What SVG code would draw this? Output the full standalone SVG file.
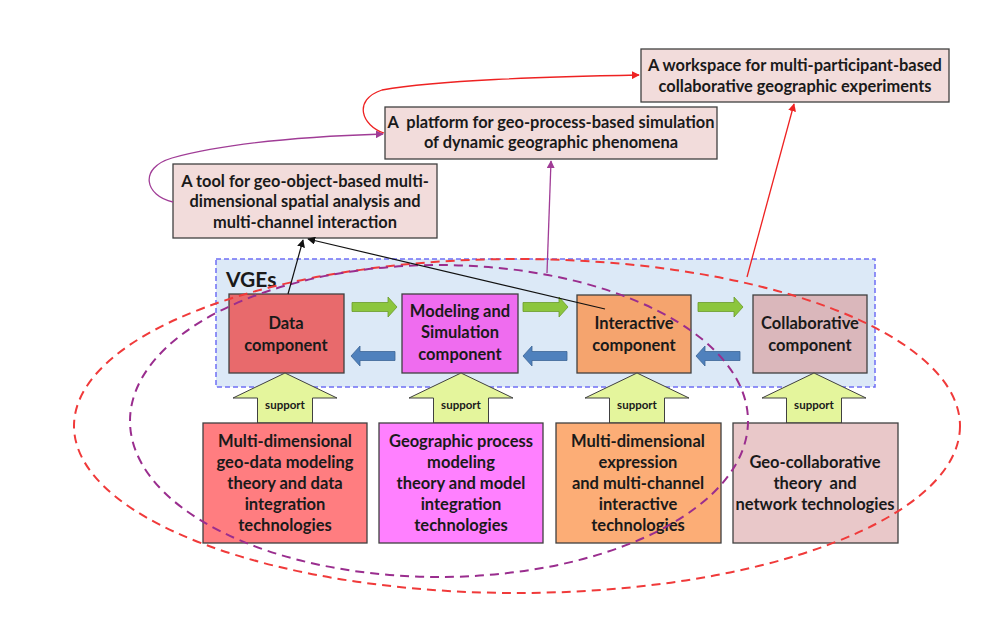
<svg xmlns="http://www.w3.org/2000/svg" width="994" height="620" viewBox="0 0 994 620">
<style>
text{font-family:Lato,"Liberation Sans",sans-serif;font-weight:bold;fill:#1a1a1a;text-anchor:middle}
.t{font-size:16.4px}
.c{font-size:16.5px}
.s{font-size:11.5px}
.box{stroke:#404040;stroke-width:1.3}
.top{fill:#f2dcdb}
.sup{fill:#e4f59c;stroke:#404040;stroke-width:1}
.gr{fill:#8cc63e;stroke:#6a9a2a;stroke-width:0.8}
.bl{fill:#4f81bd;stroke:#3c6596;stroke-width:0.8}
.el{fill:none;stroke-width:2;stroke-dasharray:9 6}
</style>
<defs>
<marker id="ab" viewBox="0 0 10 10" refX="9" refY="5" markerWidth="8" markerHeight="8" orient="auto" markerUnits="userSpaceOnUse"><path d="M0,0 L10,5 L0,10 Z" fill="#111"/></marker>
<marker id="ap" viewBox="0 0 10 10" refX="9" refY="5" markerWidth="8" markerHeight="8" orient="auto" markerUnits="userSpaceOnUse"><path d="M0,0 L10,5 L0,10 Z" fill="#a03c96"/></marker>
<marker id="ar" viewBox="0 0 10 10" refX="9" refY="5" markerWidth="8" markerHeight="8" orient="auto" markerUnits="userSpaceOnUse"><path d="M0,0 L10,5 L0,10 Z" fill="#ee2222"/></marker>
<path id="garr" d="M0,-4.5 H36 V-10 L45,0 L36,10 V4.5 H0 Z"/>
<path id="barr" d="M44,-4.5 H9 V-10 L0,0 L9,10 V4.5 H44 Z"/>
<path id="sarr" d="M0,0 L52,25 H27.5 V50 H-27.5 V25 H-52 Z"/>
</defs>

<g id="vges">
<rect x="216" y="259" width="659" height="128" fill="#dce9f7" stroke="#6f6ff5" stroke-width="1.5" stroke-dasharray="5 3"/>
<text x="226" y="287" style="font-size:21px;text-anchor:start">VGEs</text>
</g>

<g id="top3">
<rect class="box top" x="641" y="49" width="308" height="53"/>
<text class="t" x="795" y="71">A workspace for multi-participant-based</text>
<text class="t" x="795" y="92">collaborative geographic experiments</text>
</g>
<g id="top2">
<rect class="box top" x="385" y="107" width="332" height="52"/>
<text class="t" x="551" y="128" xml:space="preserve">A  platform for geo-process-based simulation</text>
<text class="t" x="551" y="148">of dynamic geographic phenomena</text>
</g>
<g id="top1">
<rect class="box top" x="173" y="164" width="264" height="74"/>
<text class="t" x="305" y="187">A tool for geo-object-based multi-</text>
<text class="t" x="305" y="207">dimensional spatial analysis and</text>
<text class="t" x="305" y="228">multi-channel interaction</text>
</g>

<g id="data">
<rect class="box" x="229" y="294" width="115" height="79" fill="#e86a6c"/>
<text class="c" x="286" y="329">Data</text>
<text class="c" x="286" y="351">component</text>
</g>
<g id="modeling">
<rect class="box" x="402" y="294" width="116" height="79" fill="#ef6cef"/>
<text class="c" x="460" y="317">Modeling and</text>
<text class="c" x="460" y="338">Simulation</text>
<text class="c" x="460" y="360">component</text>
</g>
<g id="interactive">
<rect class="box" x="577" y="295" width="114" height="78" fill="#f5a46e"/>
<text class="c" x="634" y="329">Interactive</text>
<text class="c" x="634" y="351">component</text>
</g>
<g id="collaborative">
<rect class="box" x="753" y="295" width="114" height="78" fill="#dab7bb"/>
<text class="c" x="810" y="329">Collaborative</text>
<text class="c" x="810" y="351">component</text>
</g>

<g id="flow-arrows">
<use href="#garr" class="gr" x="352" y="307"/>
<use href="#garr" class="gr" x="523" y="307"/>
<use href="#garr" class="gr" x="698" y="307"/>
<use href="#barr" class="bl" x="351" y="356"/>
<use href="#barr" class="bl" x="523" y="356"/>
<use href="#barr" class="bl" x="696" y="356"/>
</g>

<g id="supports">
<use href="#sarr" class="sup" x="285" y="373"/>
<use href="#sarr" class="sup" x="461" y="373"/>
<use href="#sarr" class="sup" x="637" y="373"/>
<use href="#sarr" class="sup" x="814" y="373"/>
<text class="s" x="285" y="409">support</text>
<text class="s" x="461" y="409">support</text>
<text class="s" x="637" y="409">support</text>
<text class="s" x="814" y="409">support</text>
</g>

<g id="base-a">
<rect class="box" x="203" y="423" width="164" height="120" fill="#ff7d80"/>
<text class="c" x="285" y="447">Multi-dimensional</text>
<text class="c" x="285" y="468">geo-data modeling</text>
<text class="c" x="285" y="489">theory and data</text>
<text class="c" x="285" y="510">integration</text>
<text class="c" x="285" y="531">technologies</text>
</g>
<g id="base-b">
<rect class="box" x="379" y="423" width="164" height="120" fill="#ff80ff"/>
<text class="c" x="461" y="447">Geographic process</text>
<text class="c" x="461" y="468">modeling</text>
<text class="c" x="461" y="489">theory and model</text>
<text class="c" x="461" y="510">integration</text>
<text class="c" x="461" y="531">technologies</text>
</g>
<g id="base-c">
<rect class="box" x="556" y="423" width="165" height="120" fill="#fcad76"/>
<text class="c" x="638" y="447">Multi-dimensional</text>
<text class="c" x="638" y="468">expression</text>
<text class="c" x="638" y="489">and multi-channel</text>
<text class="c" x="638" y="510">interactive</text>
<text class="c" x="638" y="531">technologies</text>
</g>
<g id="base-d">
<rect class="box" x="733" y="423" width="165" height="120" fill="#e9c8c9"/>
<text class="c" x="815" y="468">Geo-collaborative</text>
<text class="c" x="815" y="489" xml:space="preserve">theory  and</text>
<text class="c" x="815" y="510">network technologies</text>
</g>

<g id="connectors">
<ellipse class="el" cx="517" cy="426" rx="443" ry="167" stroke="#f03a3a"/>
<ellipse class="el" cx="439" cy="421" rx="309" ry="156" stroke="#9a2d8e"/>
<line x1="288" y1="294" x2="303" y2="240" stroke="#111" stroke-width="1.2" marker-end="url(#ab)"/>
<line x1="605" y1="309" x2="308" y2="239" stroke="#111" stroke-width="1.2" marker-end="url(#ab)"/>
<line x1="547" y1="273" x2="551" y2="161" stroke="#a03c96" stroke-width="1.3" marker-end="url(#ap)"/>
<line x1="747" y1="277" x2="794" y2="104" stroke="#ee2222" stroke-width="1.3" marker-end="url(#ar)"/>
<path d="M173,202 C145,196 138,168 172,158 C230,142 320,136 383,134" fill="none" stroke="#a03c96" stroke-width="1.3" marker-end="url(#ap)"/>
<path d="M384,133 C362,126 352,100 382,90 C440,80 540,77 639,75" fill="none" stroke="#ee2222" stroke-width="1.3" marker-end="url(#ar)"/>
</g>
</svg>
